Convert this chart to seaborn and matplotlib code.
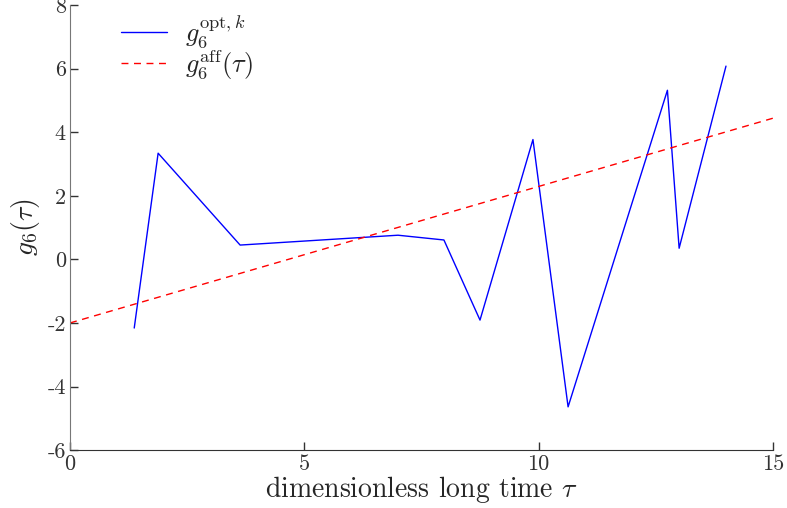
import matplotlib
matplotlib.use('Agg')
import matplotlib.pyplot as plt
import seaborn as sns

# valeurs
tau_opt = [1.37, 1.88, 3.63, 7.0, 7.98, 8.75, 9.88, 10.63, 12.75, 13.0, 14.0]
g_opt = [-2.16, 3.34, 0.45, 0.76, 0.61, -1.91, 3.77, -4.64, 5.32, 0.35, 6.08]
tau_aff = [0, 15]
g_aff = [-2.0, 4.44]

xticks = [0, 5, 10, 15]
yticks = [-6, -4, -2, 0, 2, 4, 6, 8]

sns.set_style('white')
plt.rcParams['font.family'] = 'serif'
plt.rcParams['font.serif'] = ['cmr10']
plt.rcParams['mathtext.fontset'] = 'cm'
plt.rcParams['axes.unicode_minus'] = False

fig = plt.figure(figsize=(7.87, 5.08), dpi=100)
ax = fig.add_axes([0.089, 0.114, 0.893, 0.876])

sns.lineplot(x=tau_opt, y=g_opt, color='blue', lw=1.0, sort=False, ax=ax,
             label=r'$g_6^{\mathrm{opt},k}$')
sns.lineplot(x=tau_aff, y=g_aff, color='red', lw=1.0, ax=ax,
             label=r'$g_6^{\mathrm{aff}}(\tau)$')
ax.lines[1].set_dashes([5, 4])

ax.set_xlim(0, 15)
ax.set_ylim(-6, 8)
ax.set_xticks(xticks)
ax.set_xticklabels([str(t) for t in xticks])
ax.set_yticks(yticks)
ax.set_yticklabels([str(t) for t in yticks])
ax.tick_params(direction='in', length=6, width=1, colors='#333333', labelsize=16,
               bottom=True, left=True, pad=3)
ax.set_xlabel(r'dimensionless long time $\tau$', fontsize=20, labelpad=0)
ax.set_ylabel(r'$g_6(\tau)$', fontsize=20, labelpad=4)

sns.despine(ax=ax)
ax.spines['left'].set_color('#777777')
ax.spines['bottom'].set_color('#333333')

leg = ax.legend(loc='upper left', frameon=False, fontsize=19, handlelength=1.74,
                handletextpad=0.68, bbox_to_anchor=(0.039, 1.037), labelspacing=-0.1)

fig.savefig('out.png', dpi=100)
